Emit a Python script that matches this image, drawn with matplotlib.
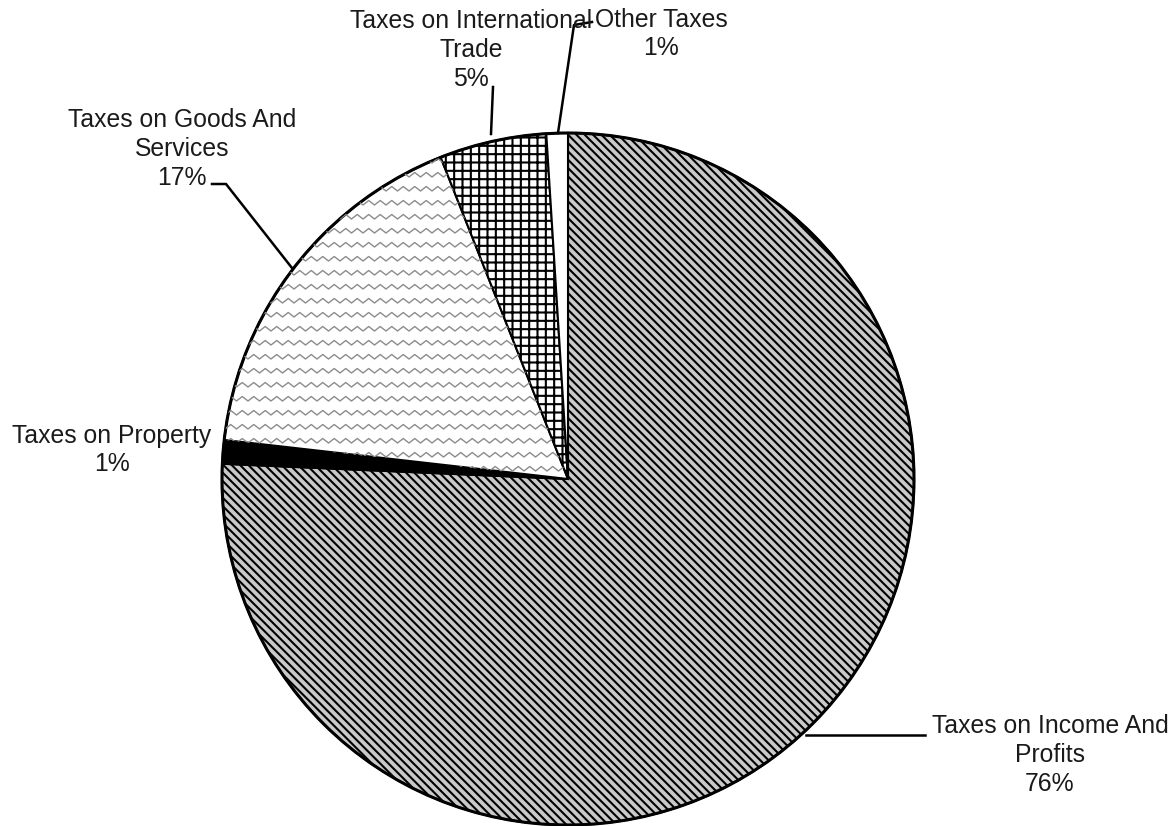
import numpy as np
import matplotlib.pyplot as plt

plt.rcParams['font.family'] = ['Liberation Sans', 'DejaVu Sans']
plt.rcParams['hatch.linewidth'] = 1.5

# slice data, clockwise from the top
labels = ['Taxes on Income And\nProfits\n76%', 'Taxes on Property\n1%',
          'Taxes on Goods And\nServices\n17%', 'Taxes on International\nTrade\n5%',
          'Other Taxes\n1%']
shares = [75.7, 1.1, 17.2, 5.0, 1.0]
faces = ['#c9c9c9', 'black', 'white', 'white', 'white']
hatches = ['\\\\\\\\', None, None, '++', None]

# figure in pixel units (y measured from bottom)
W, H = 1176, 826
fig = plt.figure(figsize=(W / 100, H / 100), dpi=100)
ax = fig.add_axes([0, 0, 1, 1])

cx, cy, r = 568, H - 479, 346
wedges, _ = ax.pie(shares, startangle=90, counterclock=False, center=(cx, cy),
                   radius=r, colors=faces, frame=True,
                   wedgeprops=dict(edgecolor='black', linewidth=1.5))
ax.set_xlim(0, W)
ax.set_ylim(0, H)
ax.axis('off')
for w, h in zip(wedges, hatches):
    if h:
        w.set_hatch(h)

# zigzag fill for the goods slice
goods = wedges[2]
xs = np.arange(cx - r - 20, cx + 20, 5.75)
zz = np.where(np.arange(len(xs)) % 2 == 0, 0, 4.5)
for y0 in np.arange(cy - 20, cy + r + 20, 14):
    ln, = ax.plot(xs, y0 + zz, color='#8c8c8c', lw=1.0)
    ln.set_clip_path(goods)

# outer rim
ax.add_patch(plt.Circle((cx, cy), r, fill=False, edgecolor='black', lw=2.2))

# labels (pixel positions of text centres)
fs = 17.8
tc = '#1a1a1a'
txt = dict(ha='center', va='center', fontsize=fs, color=tc, linespacing=1.25)
ax.text(1050, H - 755, labels[0], **txt)
ax.text(112, H - 450, labels[1], **txt)
ax.text(182, H - 149, labels[2], **txt)
ax.text(471, H - 50, labels[3], **txt)
ax.text(661, H - 34, labels[4], **txt)

# leader lines
lk = dict(color='black', lw=1.8)
ax.plot([806, 925], [H - 735, H - 735], **lk)
ax.plot([212, 226, 292], [H - 184, H - 184, H - 268], **lk)
ax.plot([493, 491], [H - 87, H - 134], **lk)
ax.plot([592, 574, 558], [H - 22, H - 25, H - 133], **lk)

fig.savefig('out.png', dpi=100, facecolor='white')
